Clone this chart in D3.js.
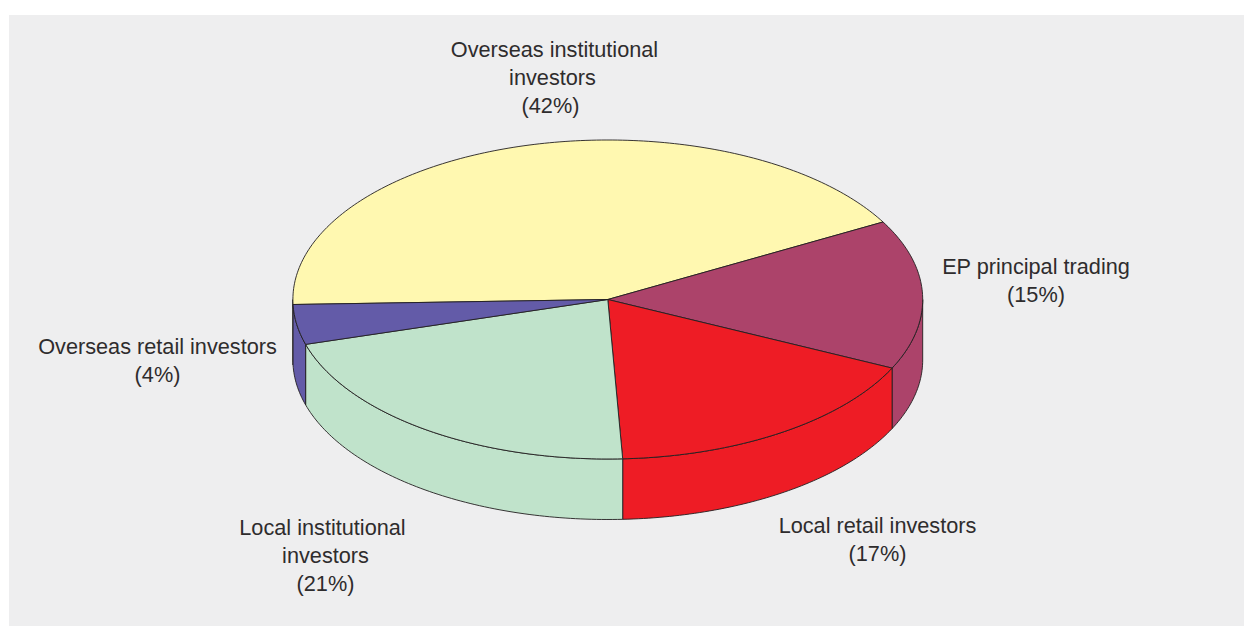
<!DOCTYPE html>
<html><head><meta charset="utf-8"><script src="https://cdnjs.cloudflare.com/ajax/libs/d3/7.8.5/d3.min.js"></script>
<style>html,body{margin:0;padding:0;background:#fff}text{font-family:"Liberation Sans",Arial,sans-serif;font-size:21.7px;fill:#2e2c2d}</style></head>
<body><svg id="c" width="1244" height="626" style="display:block"></svg>
<script>
const categories=["Overseas institutional investors","EP principal trading","Local retail investors","Local institutional investors","Overseas retail investors"];
const values=[42,15,17,21,4];
const colours=["#fff8b0","#ac436a","#ee1c25","#c0e3cb","#635ba8"];
const labelLines=[["Overseas institutional","investors","(42%)"],["EP principal trading","(15%)"],["Local retail investors","(17%)"],["Local institutional","investors","(21%)"],["Overseas retail investors","(4%)"]];
const labelAnchors=[[554.5,57],[1036,274],[877.5,533],[322.5,535],[157.5,354]];
const labelLineShift=[[0,-2,-4],[0,0],[0,0],[0,3,3],[0,0]];
const svg=d3.select("#c");
svg.append("rect").attr("x",9).attr("y",15).attr("width",1235).attr("height",611).attr("fill","#eeeeef");
const cx=607.8,cy=299.5,rx=314.9,ry=159.5,depth=60.5;
const startDeg=-91.8;
const pie=d3.pie().sort(null).startAngle(startDeg*Math.PI/180).endAngle((startDeg+360)*Math.PI/180)(values);
const pt=(a,dy=0)=>[cx+rx*Math.sin(a),cy-ry*Math.cos(a)+dy];
function arcPts(a0,a1,dy){const n=Math.max(2,Math.ceil((a1-a0)*60));return d3.range(n+1).map(i=>pt(a0+(a1-a0)*i/n,dy));}
const line=d3.line();
const g=svg.append("g").attr("stroke","#231f20").attr("stroke-width",0.9).attr("stroke-linejoin","round");
const vis0=Math.PI/2,vis1=3*Math.PI/2;
pie.forEach((d,i)=>{
 for(const k of [-1,0,1]){
  const a0=Math.max(d.startAngle,vis0+k*2*Math.PI),a1=Math.min(d.endAngle,vis1+k*2*Math.PI);
  if(a1<=a0)continue;
  const top=arcPts(a0,a1,0),bot=arcPts(a0,a1,depth).reverse();
  g.append("path").attr("d",line(top.concat(bot))+"Z").attr("fill",colours[i]);
 }
});
pie.forEach((d,i)=>{
 g.append("path").attr("d",line([[cx,cy]].concat(arcPts(d.startAngle,d.endAngle,0)))+"Z").attr("fill",colours[i]);
});
labelLines.forEach((ls,i)=>{
 const t=svg.append("text").attr("text-anchor","middle");
 ls.forEach((s,j)=>t.append("tspan").attr("x",labelAnchors[i][0]+labelLineShift[i][j]).attr("y",labelAnchors[i][1]+j*28).text(s));
});
</script></body></html>
